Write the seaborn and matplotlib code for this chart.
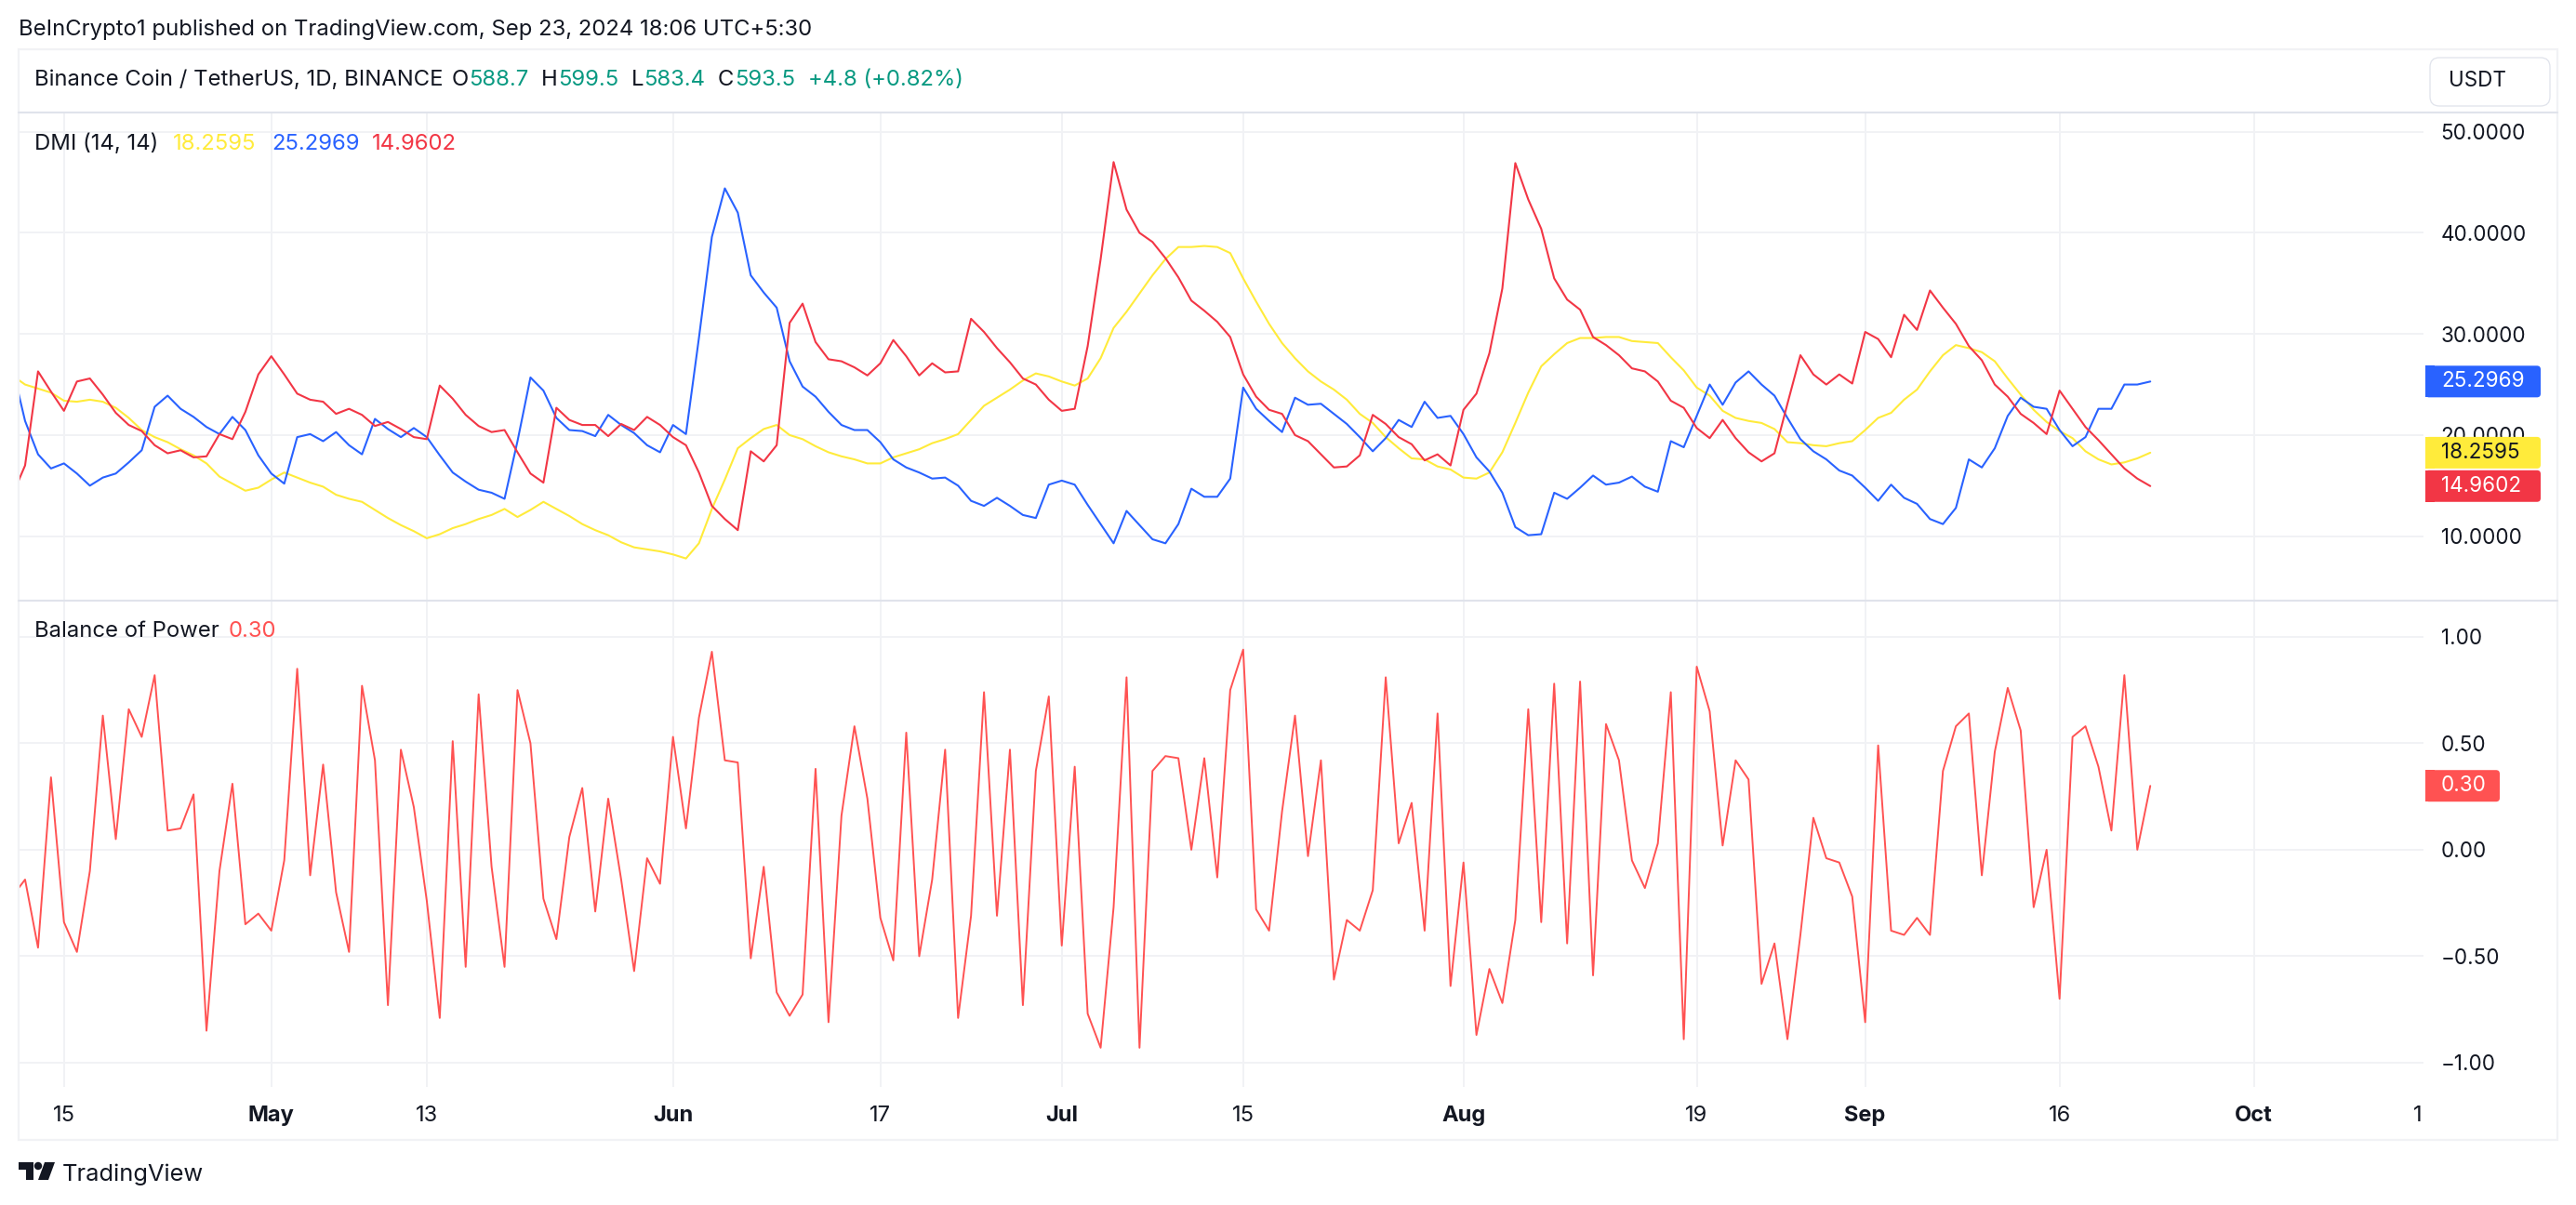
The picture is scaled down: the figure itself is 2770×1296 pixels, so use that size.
import matplotlib
matplotlib.use("Agg")
import matplotlib.pyplot as plt
import matplotlib.transforms as mtransforms
from matplotlib.lines import Line2D
from matplotlib.patches import FancyBboxPatch, Polygon, Rectangle, Circle
import pandas as pd
import seaborn as sns

# daily values, Apr 11 to Sep 23 2024
dates = pd.date_range("2024-04-11", "2024-09-23", freq="D")

adx = [25.9, 25.0, 24.6, 24.2, 23.4, 23.3, 23.5, 23.3, 22.7, 21.7, 20.5, 19.8, 19.3, 18.6, 18.0, 17.2, 15.9, 15.2, 14.5, 14.8,
       15.6, 16.3, 15.8, 15.3, 14.9, 14.1, 13.7, 13.4, 12.6, 11.8, 11.1, 10.5, 9.8, 10.2, 10.8, 11.2, 11.7, 12.1, 12.7, 11.9,
       12.6, 13.4, 12.7, 12.0, 11.2, 10.6, 10.1, 9.4, 8.9, 8.7, 8.5,
       8.2, 7.8, 9.3, 12.7, 15.6, 18.7, 19.7, 20.6, 21.0, 20.0, 19.6, 18.9, 18.3, 17.9, 17.6, 17.2, 17.2, 17.8, 18.2,
       18.6, 19.2, 19.6, 20.1, 21.5, 22.9, 23.7, 24.5, 25.4, 26.1, 25.8,
       25.3, 24.9, 25.6, 27.6, 30.6, 32.2, 34.0, 35.8, 37.4, 38.6, 38.6, 38.7, 38.6, 38.0, 35.5, 33.2, 31.0, 29.1, 27.6,
       26.3, 25.3, 24.5, 23.5, 22.1, 21.2, 19.8, 18.7, 17.7, 17.6, 16.9, 16.6,
       15.8, 15.7, 16.3, 18.3, 21.2, 24.2, 26.8, 28.0, 29.1, 29.6, 29.6, 29.7, 29.7, 29.3, 29.2, 29.1, 27.7, 26.4, 24.7,
       23.9, 22.4, 21.7, 21.4, 21.2, 20.6, 19.3, 19.2, 19.0, 18.9, 19.2, 19.4,
       20.5, 21.7, 22.2, 23.5, 24.5, 26.3, 27.9, 28.9, 28.6, 28.2, 27.3, 25.6, 24.0, 22.5, 21.3,
       20.4, 19.7, 18.4, 17.6, 17.1, 17.3, 17.7, 18.2595]

di_plus = [26.8, 21.4, 18.1, 16.7, 17.2, 16.2, 15.0, 15.8, 16.2, 17.3, 18.5, 22.8, 23.9, 22.6, 21.8, 20.8, 20.1, 21.8, 20.5, 18.0,
           16.2, 15.2, 19.8, 20.1, 19.4, 20.3, 19.0, 18.1, 21.6, 20.6, 19.8, 20.7, 19.8, 18.0, 16.3, 15.4, 14.6, 14.3, 13.7, 19.4,
           25.7, 24.4, 21.7, 20.5, 20.4, 19.9, 22.0, 21.0, 20.2, 19.0, 18.3,
           21.0, 20.1, 29.6, 39.6, 44.4, 42.0, 35.8, 34.1, 32.6, 27.3, 24.8, 23.8, 22.3, 21.0, 20.5, 20.5, 19.3, 17.6, 16.8,
           16.3, 15.7, 15.8, 15.0, 13.5, 13.0, 13.8, 13.0, 12.1, 11.8, 15.1,
           15.5, 15.1, 13.1, 11.2, 9.3, 12.5, 11.1, 9.7, 9.3, 11.2, 14.7, 13.9, 13.9, 15.7, 24.7, 22.6, 21.4, 20.3, 23.7,
           23.0, 23.1, 22.1, 21.1, 19.8, 18.4, 19.7, 21.5, 20.8, 23.3, 21.7, 21.9,
           20.1, 17.8, 16.4, 14.3, 10.9, 10.1, 10.2, 14.3, 13.7, 14.8, 16.0, 15.1, 15.3, 15.9, 14.9, 14.4, 19.4, 18.8, 21.9,
           25.0, 23.0, 25.2, 26.3, 25.0, 23.9, 21.7, 19.6, 18.4, 17.6, 16.5, 16.0,
           14.8, 13.5, 15.1, 13.8, 13.2, 11.7, 11.2, 12.8, 17.6, 16.8, 18.7, 21.9, 23.7, 22.8, 22.6,
           20.5, 18.9, 19.8, 22.6, 22.6, 25.0, 25.0, 25.2969]

di_minus = [14.0, 17.0, 26.3, 24.3, 22.4, 25.3, 25.6, 24.0, 22.2, 21.0, 20.4, 19.0, 18.2, 18.5, 17.8, 17.9, 20.1, 19.6, 22.3, 26.0,
            27.8, 26.0, 24.1, 23.5, 23.3, 22.1, 22.6, 22.0, 20.9, 21.3, 20.6, 19.8, 19.6, 24.9, 23.6, 22.0, 20.9, 20.3, 20.5, 18.3,
            16.2, 15.3, 22.7, 21.5, 21.0, 21.0, 19.9, 21.1, 20.5, 21.8, 21.0,
            19.8, 19.0, 16.3, 13.0, 11.7, 10.6, 18.4, 17.4, 19.0, 31.1, 33.0, 29.2, 27.5, 27.3, 26.7, 25.9, 27.1, 29.4, 27.8,
            25.9, 27.1, 26.2, 26.3, 31.5, 30.2, 28.6, 27.2, 25.6, 25.0, 23.5,
            22.4, 22.6, 28.8, 37.4, 47.0, 42.3, 40.0, 39.1, 37.5, 35.6, 33.3, 32.3, 31.2, 29.7, 26.0, 23.8, 22.5, 22.1, 20.0,
            19.4, 18.1, 16.8, 16.9, 18.0, 22.0, 21.1, 19.8, 19.1, 17.5, 18.1, 17.0,
            22.5, 24.1, 28.1, 34.5, 46.9, 43.3, 40.4, 35.5, 33.4, 32.4, 29.7, 28.9, 27.9, 26.6, 26.3, 25.3, 23.4, 22.7, 20.7,
            19.7, 21.5, 19.7, 18.3, 17.4, 18.2, 23.1, 27.9, 26.0, 25.0, 26.0, 25.1,
            30.2, 29.5, 27.7, 31.9, 30.4, 34.3, 32.6, 31.0, 28.8, 27.4, 25.0, 23.8, 22.1, 21.2, 20.1,
            24.4, 22.6, 20.8, 19.5, 18.1, 16.7, 15.7, 14.9602]

bop = [-0.22, -0.14, -0.46, 0.34, -0.34, -0.48, -0.10, 0.63, 0.05, 0.66, 0.53, 0.82, 0.09, 0.10, 0.26, -0.85, -0.10, 0.31, -0.35, -0.30,
       -0.38, -0.05, 0.85, -0.12, 0.40, -0.20, -0.48, 0.77, 0.42, -0.73, 0.47, 0.20, -0.24, -0.79, 0.51, -0.55, 0.73, -0.08, -0.55, 0.75,
       0.50, -0.23, -0.42, 0.06, 0.29, -0.29, 0.24, -0.14, -0.57, -0.04, -0.16,
       0.53, 0.10, 0.62, 0.93, 0.42, 0.41, -0.51, -0.08, -0.67, -0.78, -0.68, 0.38, -0.81, 0.16, 0.58, 0.24, -0.32, -0.52, 0.55,
       -0.50, -0.14, 0.47, -0.79, -0.31, 0.74, -0.31, 0.47, -0.73, 0.37, 0.72,
       -0.45, 0.39, -0.77, -0.93, -0.27, 0.81, -0.93, 0.37, 0.44, 0.43, 0.00, 0.43, -0.13, 0.75, 0.94, -0.28, -0.38, 0.18, 0.63,
       -0.03, 0.42, -0.61, -0.33, -0.38, -0.19, 0.81, 0.03, 0.22, -0.38, 0.64, -0.64,
       -0.06, -0.87, -0.56, -0.72, -0.33, 0.66, -0.34, 0.78, -0.44, 0.79, -0.59, 0.59, 0.42, -0.05, -0.18, 0.03, 0.74, -0.89, 0.86,
       0.65, 0.02, 0.42, 0.33, -0.63, -0.44, -0.89, -0.40, 0.15, -0.04, -0.06, -0.22,
       -0.81, 0.49, -0.38, -0.40, -0.32, -0.40, 0.37, 0.58, 0.64, -0.12, 0.46, 0.76, 0.56, -0.27, 0.00,
       -0.70, 0.53, 0.58, 0.39, 0.09, 0.82, 0.00, 0.30]

dmi_ticks = [10, 20, 30, 40, 50]
dmi_tick_labels = ["10.0000", "20.0000", "30.0000", "40.0000", "50.0000"]
bop_ticks = [-1, -0.5, 0, 0.5, 1]
bop_tick_labels = ["\u22121.00", "\u22120.50", "0.00", "0.50", "1.00"]

x_ticks = pd.to_datetime(["2024-04-15", "2024-05-01", "2024-05-13", "2024-06-01", "2024-06-17", "2024-07-01",
                          "2024-07-15", "2024-08-01", "2024-08-19", "2024-09-01", "2024-09-16", "2024-10-01"])
x_tick_labels = ["15", "May", "13", "Jun", "17", "Jul", "15", "Aug", "19", "Sep", "16", "Oct"]
month_labels = ["May", "Jun", "Jul", "Aug", "Sep", "Oct"]

RED = "#F23645"
BLUE = "#2962FF"
YELLOW = "#FFEB3B"
BOP_RED = "#FF5252"
GREEN = "#089981"
INK = "#131722"
GRID = "#F1F2F5"
BORDER = "#E0E3EB"
W, H = 2770, 1296

sns.set_theme(style="white")
plt.rcParams["font.family"] = ["Inter", "DejaVu Sans"]

fig = plt.figure(figsize=(W / 100, H / 100), dpi=100, facecolor="white")
# pixel coordinates measured from the top left corner of the picture
px = mtransforms.Affine2D().scale(1 / W, -1 / H).translate(0, 1) + fig.transFigure


def pane(left, top, right, bottom):
    return fig.add_axes([left / W, 1 - bottom / H, (right - left) / W, (bottom - top) / H])


def label(x, y, text, color=INK, size=17.2, ha="left", weight="normal", zorder=8):
    fig.text(x, y, text, color=color, fontsize=size, ha=ha, va="center", transform=px, fontweight=weight, zorder=zorder)


def hline(y, x0=20, x1=2750, color=BORDER):
    fig.add_artist(Line2D([x0, x1], [y, y], color=color, lw=1.5, transform=px, zorder=2))


def price_tag(ax, value, text, color, width, text_color="white"):
    y = ax.transData.transform((0, value))[1]
    y = H - y
    fig.add_artist(FancyBboxPatch((2608, y - 17), width, 34, boxstyle="round,pad=0,rounding_size=4",
                                  fc=color, ec="none", transform=px, zorder=5))
    fig.add_artist(Rectangle((2608, y - 17), 10, 34, fc=color, ec="none", transform=px, zorder=5))
    label(2625, y, text, color=text_color, size=16.2, zorder=6)


dmi_df = pd.DataFrame({"date": dates, "adx": adx, "plus": di_plus, "minus": di_minus})
bop_df = pd.DataFrame({"date": dates, "bop": bop})

ax_dmi = pane(20, 121, 2606, 646)
ax_bop = pane(20, 646, 2606, 1169)

sns.lineplot(data=dmi_df, x="date", y="adx", color=YELLOW, lw=1.5, ax=ax_dmi)
sns.lineplot(data=dmi_df, x="date", y="plus", color=BLUE, lw=1.5, ax=ax_dmi)
sns.lineplot(data=dmi_df, x="date", y="minus", color=RED, lw=1.5, ax=ax_dmi)
sns.lineplot(data=bop_df, x="date", y="bop", color=BOP_RED, lw=1.4, ax=ax_bop)

for ax, ticks, tick_labels, ylim in [(ax_dmi, dmi_ticks, dmi_tick_labels, (3.63, 51.9)),
                                     (ax_bop, bop_ticks, bop_tick_labels, (-1.114, 1.170))]:
    ax.set_xlim(pd.Timestamp("2024-04-11 12:00"), pd.Timestamp("2024-10-14 02:00"))
    ax.set_ylim(*ylim)
    ax.set_xlabel("")
    ax.set_ylabel("")
    ax.set_facecolor("none")
    ax.set_xticks(x_ticks)
    ax.set_yticks(ticks)
    ax.set_yticklabels(tick_labels)
    ax.yaxis.tick_right()
    ax.tick_params(axis="y", length=0, pad=13.5, labelsize=16.2, labelcolor=INK)
    ax.tick_params(axis="x", length=0)
    ax.grid(True, color=GRID, lw=1.4)
    ax.set_axisbelow(True)
    sns.despine(ax=ax, left=True, bottom=True, right=True, top=True)

ax_dmi.set_xticklabels([])
ax_bop.set_xticklabels(x_tick_labels)
ax_bop.tick_params(axis="x", pad=14.5, labelsize=17, labelcolor=INK)
for tick in ax_bop.get_xticklabels():
    if tick.get_text() in month_labels:
        tick.set_fontweight("bold")

# frame around the chart
fig.add_artist(Rectangle((20, 53), 2730, 1173, fc="none", ec=GRID, lw=1.6, transform=px, zorder=2))
hline(121)
hline(646)

# header rows
label(20, 32, "BeInCrypto1 published on TradingView.com, Sep 23, 2024 18:06 UTC+5:30")
label(37, 86, "Binance Coin / TetherUS, 1D, BINANCE")
for x, text, color in [(486, "O", INK), (504, "588.7", GREEN), (582, "H", INK), (600, "599.5", GREEN),
                       (679, "L", INK), (692, "583.4", GREEN), (772, "C", INK), (790, "593.5", GREEN),
                       (869, "+4.8 (+0.82%)", GREEN)]:
    label(x, 86, text, color=color)

label(37, 155, "DMI (14, 14)")
label(186, 155, "18.2595", color=YELLOW)
label(292, 155, "25.2969", color=BLUE)
label(400, 155, "14.9602", color=RED)
label(37, 679, "Balance of Power")
label(246, 679, "0.30", color=BOP_RED)

fig.add_artist(FancyBboxPatch((2613, 62), 129, 52, boxstyle="round,pad=0,rounding_size=10",
                              fc="white", ec=BORDER, lw=0.9, transform=px, zorder=4))
label(2633, 87, "USDT", size=16.2)

# last value tags, placed through each pane's own scale
fig.canvas.draw()
price_tag(ax_dmi, di_plus[-1], "25.2969", BLUE, 124)
price_tag(ax_dmi, adx[-1], "18.2595", YELLOW, 124, text_color=INK)
price_tag(ax_dmi, di_minus[-1], "14.9602", RED, 124)
price_tag(ax_bop, bop[-1], "0.30", BOP_RED, 80)

# clipped tick at the right edge of the time axis
label(2605, 1200, "1", ha="right", size=17)

# TradingView logo
fig.add_artist(Polygon([(20, 1250), (36, 1250), (36, 1269), (28, 1269), (28, 1258), (20, 1258)], fc=INK, ec="none", transform=px, zorder=8))
fig.add_artist(Circle((41, 1254), 4.2, fc=INK, ec="none", transform=px, zorder=8))
fig.add_artist(Polygon([(48, 1250), (59, 1250), (52, 1269), (41, 1269)], fc=INK, ec="none", transform=px, zorder=8))
label(67, 1263, "TradingView", size=18.3)

fig.savefig("out.png", dpi=100, facecolor="white")
